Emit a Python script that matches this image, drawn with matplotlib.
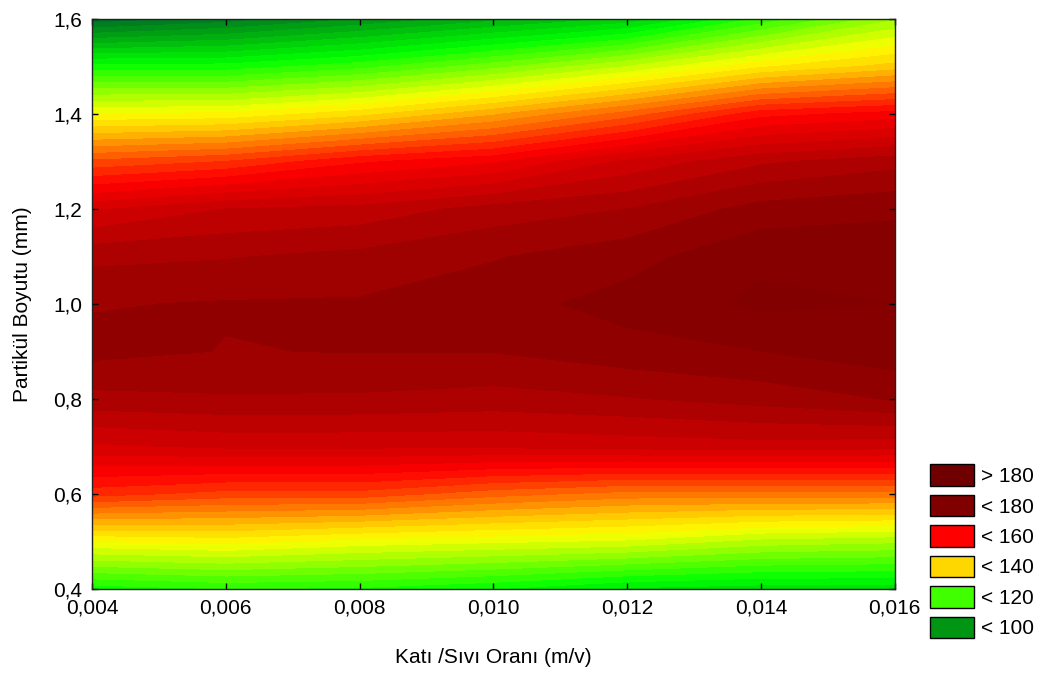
import numpy as np
import matplotlib.pyplot as plt
from matplotlib.colors import LinearSegmentedColormap
from matplotlib.patches import Patch

plt.rcParams['font.family'] = ['Liberation Sans', 'DejaVu Sans']

# Katı/Sıvı oranı (x) and partikül boyutu (y) grid
ratio = [0.004, 0.006, 0.008, 0.010, 0.012, 0.014, 0.016]
size = [0.4, 0.5, 0.6, 0.7, 0.8, 0.9, 1.0, 1.1, 1.2, 1.3, 1.4, 1.5, 1.6]

# response, one row per size value
response = [
    [116.0, 117.5, 117.0, 115.0, 112.0, 111.0, 111.0],
    [135.0, 136.0, 134.0, 133.0, 132.0, 129.0, 128.0],
    [156.0, 154.0, 154.0, 151.0, 149.0, 149.0, 149.0],
    [167.0, 168.0, 168.0, 168.0, 168.5, 169.0, 168.5],
    [174.2, 174.7, 174.6, 174.0, 174.8, 176.0, 177.7],
    [178.3, 177.4, 177.6, 177.6, 179.0, 180.0, 181.5],
    [177.3, 177.7, 177.8, 179.0, 181.0, 183.0, 182.5],
    [174.3, 174.8, 175.7, 177.3, 179.0, 182.0, 181.5],
    [167.0, 170.0, 170.8, 173.5, 175.0, 178.5, 179.5],
    [153.0, 155.0, 159.5, 162.0, 168.0, 172.0, 174.0],
    [135.0, 135.5, 139.0, 144.5, 151.0, 159.0, 161.0],
    [116.0, 116.0, 119.0, 124.0, 130.0, 137.0, 141.0],
    [93.0, 96.0, 100.0, 104.0, 108.0, 118.0, 127.0],
]

legend_labels = ["> 180", "< 180", "< 160", "< 140", "< 120", "< 100"]
x_ticks = [0.004, 0.006, 0.008, 0.010, 0.012, 0.014, 0.016]
x_tick_labels = ["0,004", "0,006", "0,008", "0,010", "0,012", "0,014", "0,016"]
y_ticks = [0.4, 0.6, 0.8, 1.0, 1.2, 1.4, 1.6]
y_tick_labels = ["0,4", "0,6", "0,8", "1,0", "1,2", "1,4", "1,6"]

# colour scale (value, rgb)
anchors = [
    (88, (0, 80, 58)),
    (100, (0, 150, 20)),
    (115, (0, 255, 0)),
    (120, (64, 255, 0)),
    (135, (255, 255, 0)),
    (140, (255, 215, 0)),
    (160, (255, 0, 0)),
    (180, (138, 0, 0)),
    (190, (120, 0, 0)),
]
lo, hi = anchors[0][0], anchors[-1][0]
cmap = LinearSegmentedColormap.from_list(
    "stat", [((v - lo) / (hi - lo), tuple(c / 255 for c in rgb)) for v, rgb in anchors]
)

levels = np.arange(87.5, 190.1, 2.5)
mids = (levels[:-1] + levels[1:]) / 2
band_colors = [cmap((m - lo) / (hi - lo)) for m in mids]

legend_colors = ["#700000", "#800000", "#ff0000", "#ffd700", "#40ff00", "#009614"]

fig = plt.figure(figsize=(10.48, 6.73), dpi=100)
ax = fig.add_axes([0.0878, 0.125, 0.766, 0.847])

ax.contourf(ratio, size, response, levels=levels, colors=band_colors)

ax.set_xlim(0.004, 0.016)
ax.set_ylim(0.4, 1.6)
ax.set_xticks(x_ticks)
ax.set_xticklabels(x_tick_labels)
ax.set_yticks(y_ticks)
ax.set_yticklabels(y_tick_labels)
ax.tick_params(direction="in", top=True, right=True, length=4, width=1,
               labelsize=15, pad=7, colors="black")
for s in ax.spines.values():
    s.set_linewidth(1.0)
    s.set_color("#222222")

ax.set_xlabel("Katı /Sıvı Oranı (m/v)", fontsize=15, labelpad=22)
ax.set_ylabel("Partikül Boyutu (mm)", fontsize=15, labelpad=15)

handles = [Patch(facecolor=c, edgecolor="black", linewidth=1.0) for c in legend_colors]
fig.legend(handles, legend_labels, loc="lower left", bbox_to_anchor=(0.877, 0.036),
           frameon=False, fontsize=15, handlelength=2.15, handleheight=1.2,
           labelspacing=0.42, handletextpad=0.3, borderpad=0)

fig.savefig("out.png", dpi=100)
